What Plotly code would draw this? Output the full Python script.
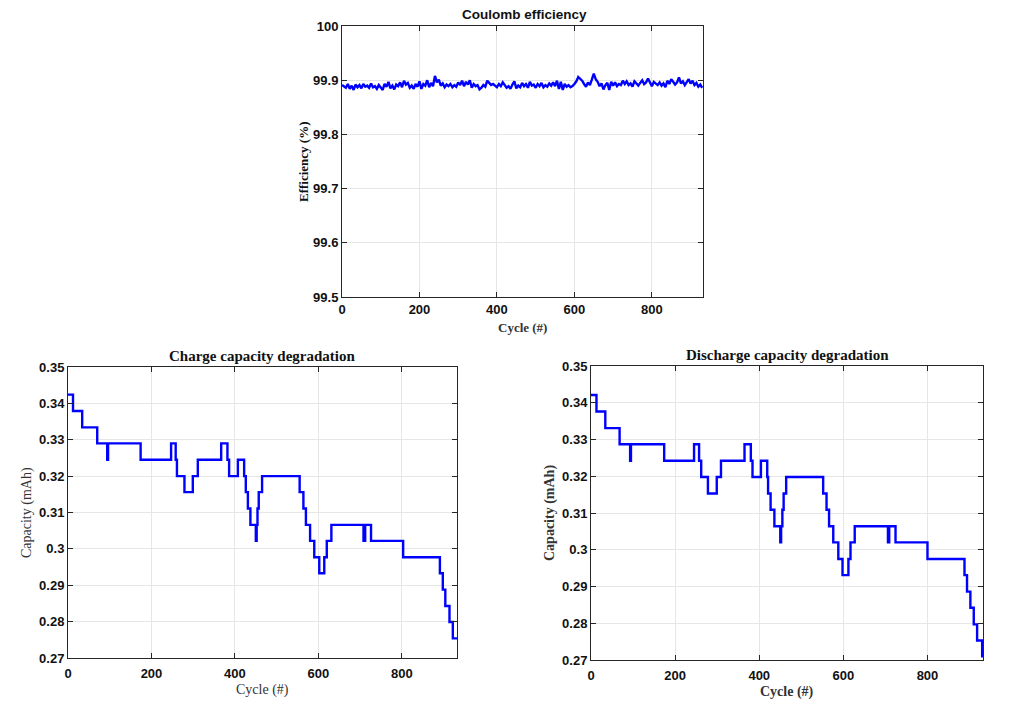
import plotly.graph_objects as go

# ---------------- data ----------------
eff_cycles = list(range(0, 931, 5))
eff_values = [
    99.891, 99.889, 99.886, 99.893, 99.884, 99.890, 99.882, 99.892, 99.887, 99.891,
    99.885, 99.893, 99.888, 99.890, 99.886, 99.894, 99.887, 99.889, 99.884, 99.891,
    99.886, 99.882, 99.893, 99.888, 99.897, 99.885, 99.890, 99.883, 99.892, 99.889,
    99.896, 99.887, 99.899, 99.892, 99.895, 99.886, 99.890, 99.884, 99.893, 99.888,
    99.898, 99.884, 99.893, 99.890, 99.900, 99.887, 99.895, 99.889, 99.908, 99.896,
    99.901, 99.890, 99.894, 99.887, 99.892, 99.889, 99.893, 99.887, 99.891, 99.888,
    99.896, 99.891, 99.899, 99.889, 99.897, 99.892, 99.900, 99.886, 99.893, 99.889,
    99.891, 99.883, 99.886, 99.891, 99.888, 99.899, 99.895, 99.891, 99.893, 99.889,
    99.887, 99.893, 99.889, 99.896, 99.891, 99.886, 99.889, 99.884, 99.892, 99.898,
    99.885, 99.890, 99.887, 99.895, 99.889, 99.893, 99.886, 99.897, 99.890, 99.892,
    99.886, 99.893, 99.889, 99.895, 99.887, 99.891, 99.888, 99.894, 99.890, 99.896,
    99.889, 99.899, 99.884, 99.897, 99.882, 99.893, 99.888, 99.891, 99.887, 99.889,
    99.893, 99.898, 99.906, 99.903, 99.899, 99.893, 99.888, 99.896, 99.891, 99.901,
    99.912, 99.902, 99.897, 99.889, 99.894, 99.883, 99.891, 99.895, 99.882, 99.897,
    99.890, 99.896, 99.889, 99.893, 99.891, 99.899, 99.893, 99.898, 99.891, 99.894,
    99.888, 99.898, 99.893, 99.890, 99.895, 99.900, 99.893, 99.896, 99.903, 99.895,
    99.889, 99.897, 99.893, 99.891, 99.896, 99.890, 99.894, 99.887, 99.899, 99.893,
    99.902, 99.897, 99.892, 99.896, 99.905, 99.894, 99.898, 99.891, 99.896, 99.902,
    99.894, 99.899, 99.891, 99.895, 99.888, 99.892, 99.886,
]

charge_cycles = [0, 12, 34, 70, 94, 96, 174, 247, 258, 261, 279, 299, 311, 367, 382,
                 386, 407, 422, 426, 431, 437, 450, 452, 454, 457, 465, 555, 564, 570,
                 580, 590, 602, 614, 620, 631, 708, 712, 726, 803, 891, 898, 904, 914,
                 922, 932]
charge_cap = [0.3424, 0.3379, 0.3334, 0.3290, 0.3245, 0.3290, 0.3245, 0.3290, 0.3245,
              0.3200, 0.3156, 0.3200, 0.3245, 0.3290, 0.3245, 0.3200, 0.3245, 0.3200,
              0.3156, 0.3111, 0.3066, 0.3022, 0.3066, 0.3111, 0.3156, 0.3200, 0.3156,
              0.3111, 0.3066, 0.3022, 0.2977, 0.2933, 0.2977, 0.3022, 0.3066, 0.3022,
              0.3066, 0.3022, 0.2977, 0.2933, 0.2888, 0.2843, 0.2799, 0.2754, 0.2754]

discharge_cycles = [0, 13, 34, 68, 93, 95, 174, 245, 257, 262, 278, 299, 309, 365, 380,
                    384, 404, 419, 421, 427, 436, 450, 452, 455, 458, 464, 552, 560, 566,
                    576, 588, 598, 612, 617, 627, 706, 709, 724, 800, 888, 894, 902, 910,
                    918, 930, 932]
discharge_cap = [0.3421, 0.3376, 0.3331, 0.3287, 0.3242, 0.3287, 0.3242, 0.3287, 0.3242,
                 0.3198, 0.3153, 0.3198, 0.3242, 0.3287, 0.3242, 0.3198, 0.3242, 0.3198,
                 0.3153, 0.3109, 0.3064, 0.3020, 0.3064, 0.3109, 0.3153, 0.3198, 0.3153,
                 0.3109, 0.3064, 0.3020, 0.2975, 0.2931, 0.2975, 0.3020, 0.3064, 0.3020,
                 0.3064, 0.3020, 0.2975, 0.2931, 0.2886, 0.2842, 0.2797, 0.2753, 0.2710,
                 0.2710]

x_ticks = [0, 200, 400, 600, 800]
eff_ticks = [99.5, 99.6, 99.7, 99.8, 99.9, 100]
eff_tick_text = ["99.5", "99.6", "99.7", "99.8", "99.9", "100"]
cap_ticks = [0.27, 0.28, 0.29, 0.30, 0.31, 0.32, 0.33, 0.34, 0.35]
cap_tick_text = ["0.27", "0.28", "0.29", "0.3", "0.31", "0.32", "0.33", "0.34", "0.35"]

# ---------------- figure ----------------
W, H = 1013, 705
BLUE = "#0000ff"
SANS = "Arial, Liberation Sans, sans-serif"
SERIF = "Times New Roman, Liberation Serif, serif"

fig = go.Figure()
fig.add_trace(go.Scatter(x=eff_cycles, y=eff_values, mode="lines",
                         line=dict(color=BLUE, width=2.4), xaxis="x", yaxis="y",
                         showlegend=False))
fig.add_trace(go.Scatter(x=charge_cycles, y=charge_cap, mode="lines",
                         line=dict(color=BLUE, width=2.4, shape="hv"),
                         xaxis="x2", yaxis="y2", showlegend=False))
fig.add_trace(go.Scatter(x=discharge_cycles, y=discharge_cap, mode="lines",
                         line=dict(color=BLUE, width=2.4, shape="hv"),
                         xaxis="x3", yaxis="y3", showlegend=False))

def px_x(a, b):
    return [a / W, b / W]

def px_y(top, bottom):
    return [1 - bottom / H, 1 - top / H]

axis_common = dict(showline=True, linecolor="#262626", linewidth=1, mirror="ticks",
                   ticks="inside", ticklen=5, tickcolor="#262626", showgrid=True,
                   gridcolor="#e6e6e6", gridwidth=1, zeroline=False, automargin=False,
                   tickfont=dict(family=SANS, size=13, color="#111111", weight="bold"))

fig.update_layout(
    width=W, height=H, margin=dict(l=0, r=0, t=0, b=0, autoexpand=False),
    paper_bgcolor="white", plot_bgcolor="white",
    xaxis=dict(domain=px_x(342, 703), range=[0, 932], tickvals=x_ticks,
               anchor="y", **axis_common),
    yaxis=dict(domain=px_y(26, 297), range=[99.5, 100], tickvals=eff_ticks,
               ticktext=eff_tick_text, anchor="x", **axis_common),
    xaxis2=dict(domain=px_x(68, 457), range=[0, 932], tickvals=x_ticks,
                anchor="y2", ticklabelstandoff=3, **axis_common),
    yaxis2=dict(domain=px_y(367, 658), range=[0.27, 0.35], tickvals=cap_ticks,
                ticktext=cap_tick_text, anchor="x2", **axis_common),
    xaxis3=dict(domain=px_x(591, 983), range=[0, 932], tickvals=x_ticks,
                anchor="y3", ticklabelstandoff=3, **axis_common),
    yaxis3=dict(domain=px_y(366, 660), range=[0.27, 0.35], tickvals=cap_ticks,
                ticktext=cap_tick_text, anchor="x3", **axis_common),
)

def ann(text, x, y, family, size, bold=True, angle=0, color="#111111"):
    fig.add_annotation(text=text, x=x / W, y=1 - y / H, xref="paper", yref="paper",
                       showarrow=False, textangle=angle, xanchor="center",
                       yanchor="middle",
                       font=dict(family=family, size=size, color=color,
                                 weight="bold" if bold else "normal"))

ann("Coulomb efficiency", 524, 14, SANS, 13.5)
ann("Efficiency (%)", 303, 162, SERIF, 13, angle=-90)
ann("Cycle (#)", 522, 327, SERIF, 13, color="#333333")

ann("Charge capacity degradation", 262, 356, SERIF, 15)
ann("Capacity (mAh)", 27, 513, SERIF, 14, bold=False, angle=-90, color="#333333")
ann("Cycle (#)", 262, 690, SERIF, 14, bold=False, color="#333333")

ann("Discharge capacity degradation", 787, 355, SERIF, 15)
ann("Capacity (mAh)", 550, 513, SERIF, 14, angle=-90, color="#333333")
ann("Cycle (#)", 787, 692, SERIF, 14, color="#333333")

fig.write_html("out.html")
